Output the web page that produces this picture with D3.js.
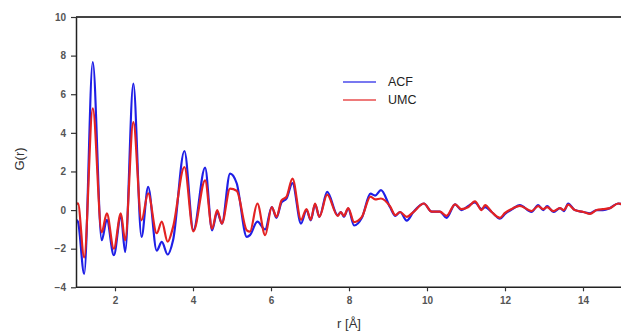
<!DOCTYPE html>
<html>
<head>
<meta charset="utf-8">
<script src="https://cdn.jsdelivr.net/npm/d3@7"></script>
<style>
    body { margin: 0; background: white; }
    text { font-family: Arial, "Liberation Sans", sans-serif; }
</style>
</head>
<body>
<div id="chart"></div>
<script>
// r values (Angstrom) at the read-off extrema
const rValues = [1.00, 1.05, 1.21, 1.43, 1.66, 1.79, 1.97, 2.15, 2.26, 2.47, 2.68, 2.85, 3.07, 3.20, 3.35, 3.49,
    3.78, 4.01, 4.31, 4.49, 4.62, 4.74, 4.95, 5.12, 5.38, 5.46, 5.65, 5.85, 6.02, 6.14, 6.27, 6.40, 6.55,
    6.77, 6.91, 7.02, 7.13, 7.24, 7.44, 7.71, 7.79, 7.87, 7.98, 8.13, 8.33, 8.55, 8.67, 8.82, 9.05, 9.19,
    9.31, 9.48, 9.65, 9.92, 10.12, 10.33, 10.50, 10.72, 10.88, 11.05, 11.23, 11.40, 11.49, 11.66, 11.87,
    12.00, 12.21, 12.38, 12.68, 12.85, 12.98, 13.08, 13.24, 13.41, 13.51, 13.62, 13.79, 14.01, 14.18,
    14.35, 14.51, 14.69, 14.90, 15.00];
const acfValues = [-0.5, -0.6, -3.3, 7.67, -1.56, -0.5, -2.34, -0.27, -2.17, 6.55, -1.39, 1.2, -2.1, -1.65, -2.3, -1.55,
    3.06, -1.05, 2.2, -1.05, -0.1, -0.7, 1.89, 1.39, -1.39, -1.3, -0.6, -1.0, 0.16, -0.4, 0.4, 0.6, 1.4,
    -0.7, 0.0, -0.53, 0.3, -0.35, 0.94, -0.27, -0.1, -0.35, 0.08, -0.8, -0.4, 0.85, 0.75, 1.03, 0.16, -0.3,
    -0.1, -0.55, -0.1, 0.34, -0.08, -0.08, -0.4, 0.3, 0.0, 0.2, 0.4, 0.05, 0.15, -0.1, -0.45,
    -0.2, 0.08, 0.26, -0.1, 0.26, 0.0, 0.2, -0.1, 0.1, -0.05, 0.34, 0.0, -0.1, -0.17,
    0.0, 0.0, 0.1, 0.34, 0.3];
const umcValues = [0.25, 0.35, -2.45, 5.27, -1.15, -0.17, -2.0, -0.17, -1.56, 4.56, -0.53, 0.86, -1.2, -0.6, -1.64, -0.87,
    2.23, -1.1, 1.54, -0.96, 0.0, -0.7, 1.11, 1.0, -1.05, -1.12, 0.34, -1.3, 0.16, -0.35, 0.5, 0.7, 1.63,
    -0.5, 0.05, -0.5, 0.34, -0.35, 0.8, -0.3, -0.1, -0.3, 0.1, -0.62, -0.35, 0.7, 0.55, 0.6, 0.2, -0.26,
    -0.1, -0.35, -0.1, 0.34, -0.08, -0.08, -0.3, 0.3, 0.05, 0.15, 0.45, 0.0, 0.26, -0.1, -0.4,
    -0.15, 0.1, 0.22, -0.05, 0.2, 0.05, 0.15, -0.05, 0.1, 0.0, 0.28, 0.0, -0.1, -0.2,
    0.0, 0.05, 0.1, 0.34, 0.3];
const seriesNames = ['ACF', 'UMC'];
const seriesColors = ['#1f1fe6', '#e32222'];
const xTicks = [2, 4, 6, 8, 10, 12, 14];
const yTicks = [-4, -2, 0, 2, 4, 6, 8, 10];

const width = 621, height = 335;
const margin = {top: 17, right: 0, bottom: 48, left: 76};

const svg = d3.select('#chart')
    .append('svg')
    .attr('width', width)
    .attr('height', height);

const x = d3.scaleLinear().domain([1, 15]).range([margin.left, margin.left + 14 * 39]);
const y = d3.scaleLinear().domain([-4, 10]).range([height - margin.bottom + 0.3, margin.top]);

// frame top line (right side is cut off in the source)
svg.append('line')
    .attr('x1', margin.left).attr('x2', width)
    .attr('y1', y(10)).attr('y2', y(10))
    .attr('stroke', '#444').attr('stroke-width', 2);

const series = [acfValues, umcValues].map((vals, i) => ({
    name: seriesNames[i],
    color: seriesColors[i],
    points: rValues.map((r, j) => [r, vals[j]])
}));

const line = d3.line()
    .x(d => x(d[0]))
    .y(d => y(d[1]))
    .curve(d3.curveMonotoneX);

svg.append('defs').append('clipPath').attr('id', 'plot-clip')
    .append('rect')
    .attr('x', margin.left).attr('y', margin.top)
    .attr('width', width - margin.left).attr('height', y(-4) - margin.top);

svg.append('g')
    .attr('clip-path', 'url(#plot-clip)')
    .selectAll('path')
    .data(series).enter()
    .append('path')
    .attr('d', d => line(d.points))
    .attr('fill', 'none')
    .attr('stroke', d => d.color)
    .attr('stroke-width', 2.2)
    .attr('stroke-linejoin', 'round');

// axes
const xAxis = svg.append('g')
    .attr('transform', `translate(0, ${y(-4)})`)
    .call(d3.axisBottom(x).tickValues(xTicks).tickSize(4).tickSizeOuter(0).tickPadding(6));
xAxis.select('.domain').attr('d', `M${margin.left},0H${width}`);

const yAxis = svg.append('g')
    .attr('transform', `translate(${margin.left}, 0)`)
    .call(d3.axisLeft(y).tickValues(yTicks).tickSize(5).tickSizeOuter(0).tickPadding(5));

[xAxis, yAxis].forEach(ax => {
    ax.select('.domain').attr('stroke', '#222').attr('stroke-width', 1.5);
    ax.selectAll('.tick line').attr('stroke', '#333').attr('stroke-width', 1.2);
    ax.selectAll('.tick text')
        .attr('fill', '#555')
        .attr('font-size', '10px')
        .attr('font-weight', 'bold');
});

svg.append('text')
    .attr('x', x(8))
    .attr('y', 328)
    .attr('text-anchor', 'middle')
    .attr('font-size', '13px')
    .attr('fill', '#333')
    .text('r [Å]');

svg.append('text')
    .attr('transform', `translate(24, 159) rotate(-90)`)
    .attr('text-anchor', 'middle')
    .attr('font-size', '13px')
    .attr('fill', '#333')
    .text('G(r)');

// legend
const legend = svg.append('g')
    .attr('transform', 'translate(343, 82)');
const items = legend.selectAll('g')
    .data(series).enter()
    .append('g')
    .attr('transform', (d, i) => `translate(0, ${i * 18})`);
items.append('line')
    .attr('x1', 0).attr('x2', 33)
    .attr('stroke', d => d.color)
    .attr('stroke-opacity', 0.8)
    .attr('stroke-width', 1.6);
items.append('text')
    .attr('x', 45)
    .attr('dy', '0.35em')
    .attr('font-size', '12.5px')
    .attr('fill', '#222')
    .text(d => d.name);
</script>
</body>
</html>
